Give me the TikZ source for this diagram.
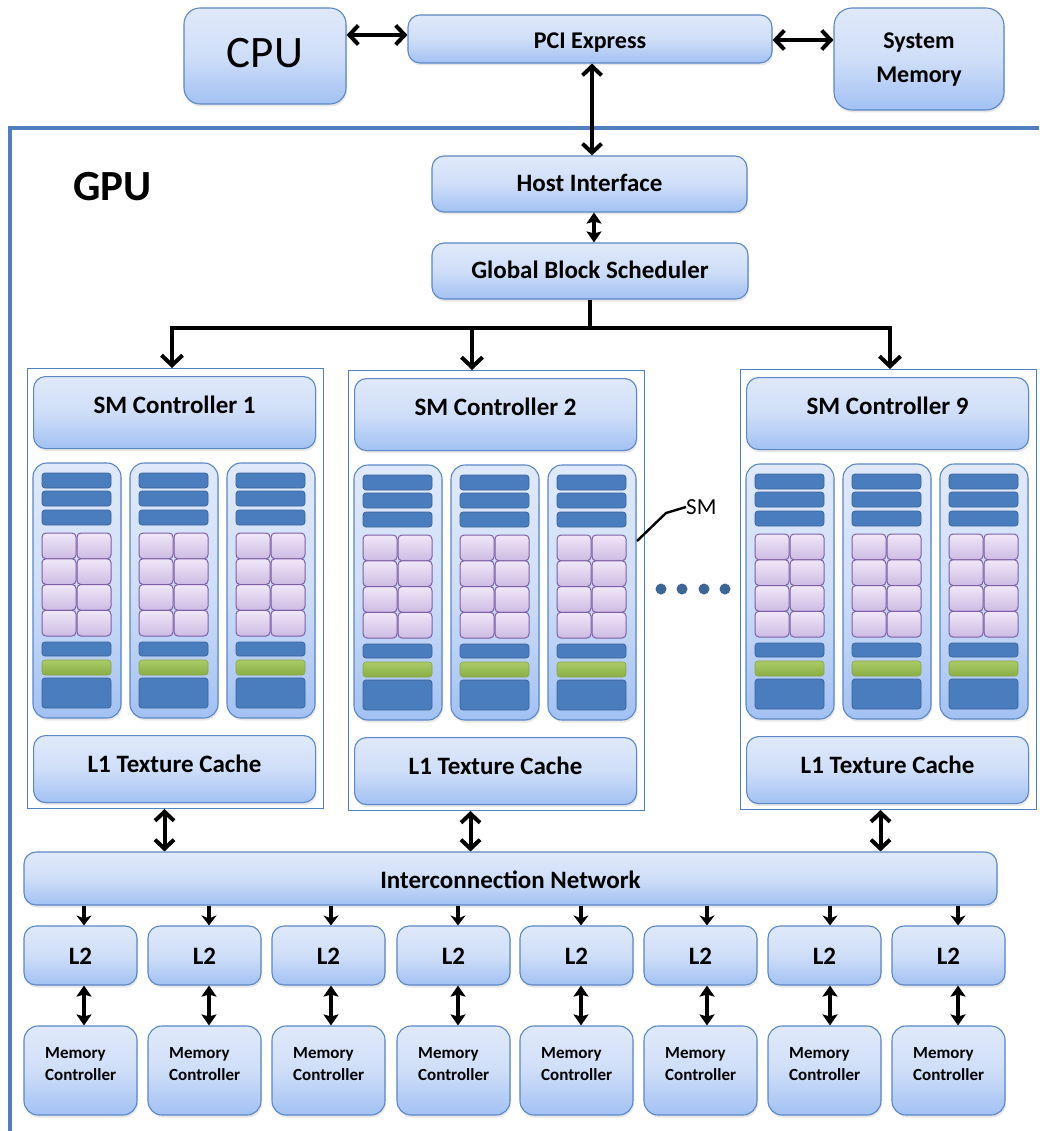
\documentclass[tikz,border=0pt]{standalone}
\usepackage{fontspec}
\setmainfont{Carlito}
\usetikzlibrary{arrows.meta,shadows}

\definecolor{boxline}{HTML}{5B87C5}
\definecolor{boxtop}{HTML}{E0E9FA}
\definecolor{boxmid}{HTML}{CFDEF8}
\definecolor{boxbot}{HTML}{A2C1F3}
\definecolor{frameblue}{HTML}{4F7FBE}
\definecolor{barfill}{HTML}{4A7DBD}
\definecolor{barline}{HTML}{3A6398}
\definecolor{celltop}{HTML}{F0E8F8}
\definecolor{cellbot}{HTML}{CDBBE3}
\definecolor{cellline}{HTML}{7D5EA6}
\definecolor{greentop}{HTML}{ABCB66}
\definecolor{greenbot}{HTML}{89AD44}
\definecolor{greenline}{HTML}{84A642}
\definecolor{dotblue}{HTML}{3E6596}

% box from (x1,y1) to (x2,y2) in pixel-like units
\newcommand{\boxat}[6]{%
  \node[#6, minimum width={(#4-#2)*1pt}, minimum height={(#5-#3)*1pt}]
    (#1) at ({(#2+#4)/2},{(#3+#5)/2}) {};}

% one streaming multiprocessor column, top-left corner at (#1,#2)
\newcommand{\smcolumn}[2]{%
  \begin{scope}[shift={(#1,#2)}]
    \draw[smcol] (0,0) rectangle (88,255);
    \foreach \t in {10,28,47} \draw[bar] (9,\t) rectangle (78,\t+15);
    \foreach \r in {0,...,3}
      \foreach \c in {0,1}
        \draw[cell] (9+\c*35,70+\r*25.75) rectangle (43+\c*35,95.75+\r*25.75);
    \draw[bar] (9,179) rectangle (78,193);
    \draw[greenbar] (9,197) rectangle (78,212);
    \draw[bar] (9,215) rectangle (78,245);
  \end{scope}}

% SM group: #1 id, #2 x, #3 y, #4 controller number
\newcommand{\smgroup}[4]{%
  \begin{scope}[shift={(#2,#3)}]
    \node[grp, minimum width=296pt, minimum height=440pt, anchor=north west] (grp#1) at (0,0) {};
    \node[blk, minimum width=282pt, minimum height=72pt, anchor=north west] (ctl#1) at (6,8) {};
    \node[lbl, anchor=base] (ctl#1-t) at ([yshift=-1pt]ctl#1.center) {SM Controller #4};
    \smcolumn{6}{95}\smcolumn{103}{95}\smcolumn{200}{95}
    \node[blk, minimum width=282pt, minimum height=67pt, anchor=north west] (lone#1) at (6,367) {};
    \node[lbl, anchor=base] (lone#1-t) at ([yshift=-3pt]lone#1.center) {L1 Texture Cache};
  \end{scope}}

\begin{document}
\begin{tikzpicture}[x=1pt,y=-1pt,
  blk/.style={draw=boxline, line width=1.1pt, rounded corners=12pt,
    top color=boxtop, bottom color=boxbot, middle color=boxmid, inner sep=0pt,
    drop shadow={opacity=0.18, shadow xshift=1pt, shadow yshift=-2.5pt}},
  smcol/.style={draw=boxline, line width=1.1pt, rounded corners=14pt,
    top color=boxtop, bottom color=boxbot, middle color=boxmid,
    drop shadow={opacity=0.18, shadow xshift=1pt, shadow yshift=-2.5pt}},
  grp/.style={draw=frameblue, line width=1pt, fill=white, inner sep=0pt},
  bar/.style={fill=barfill, draw=barline, line width=0.7pt, rounded corners=3pt},
  cell/.style={top color=celltop, bottom color=cellbot, draw=cellline, line width=1pt, rounded corners=4pt},
  greenbar/.style={top color=greentop, bottom color=greenbot, draw=greenline, line width=0.6pt, rounded corners=3pt},
  lbl/.style={inner sep=0pt, font=\fontsize{25}{30}\selectfont\bfseries},
  mclbl/.style={inner sep=0pt, font=\fontsize{17}{21}\selectfont\bfseries},
  wire/.style={line width=4pt},
  arr/.style={line width=4pt, -{Straight Barb[length=10pt,width=21pt]}},
  dbl/.style={line width=4pt, {Straight Barb[length=9pt,width=19pt]}-{Straight Barb[length=9pt,width=19pt]}},
  sarr/.style={line width=3.6pt, -{Stealth[length=10pt,width=15pt,inset=3pt]}},
  sdbl/.style={line width=3.6pt, {Stealth[length=11pt,width=15pt,inset=2pt]}-{Stealth[length=11pt,width=15pt,inset=2pt]}},
]
\useasboundingbox (0,0) rectangle (1039,1131);
\fill[white] (0,0) rectangle (1039,1131);

% host side
\boxat{cpu}{184}{8}{346}{104}{blk, rounded corners=16pt}
\node[inner sep=0pt, anchor=base, font=\fontsize{45}{54}\selectfont] (cpu-t) at ([yshift=-12pt]cpu.center) {CPU};
\boxat{pci}{408}{15}{772}{63}{blk}
\node[lbl, anchor=base, font=\fontsize{24}{28}\selectfont\bfseries] (pci-t) at ([yshift=-10pt]pci.center) {PCI Express};
\boxat{sysmem}{834}{8}{1004}{110}{blk, rounded corners=18pt}
\node[lbl, anchor=base, font=\fontsize{24}{28}\selectfont\bfseries] (sysmem-a) at ([yshift=10pt]sysmem.center) {System};
\node[lbl, anchor=base, font=\fontsize{24}{28}\selectfont\bfseries] (sysmem-b) at ([yshift=-24pt]sysmem.center) {Memory};

% GPU enclosure
\draw[frameblue, line width=3.2pt] (10,1131) -- (10,128) -- (1039,128);
\node[inner sep=0pt, anchor=base west, font=\fontsize{43}{50}\selectfont\bfseries] (gpu-t) at (73,201) {GPU};

\boxat{host}{432}{156}{747}{212}{blk}
\node[lbl, anchor=base] (host-t) at ([yshift=-8pt]host.center) {Host Interface};
\boxat{gbs}{432}{243}{748}{299}{blk}
\node[lbl, anchor=base] (gbs-t) at ([yshift=-8pt]gbs.center) {Global Block Scheduler};

% streaming multiprocessor groups
\smgroup{1}{27}{368}{1}
\smgroup{2}{348}{370}{2}
\smgroup{3}{740}{369}{9}

% SM callout and ellipsis
\node[inner sep=0pt, anchor=west, font=\fontsize{23}{28}\selectfont] (sm-t) at (686,507) {SM};
\coordinate (smedge) at (637,541);
\draw[line width=2.4pt] (smedge) -- (666,513) -- (sm-t.west);
\foreach \dx [count=\k] in {661,682,704,725}
  \fill[dotblue] (\dx,589) circle (5.5) coordinate (dot\k);

% interconnect, L2 slices and memory controllers
\boxat{ic}{24}{852}{997}{905}{blk}
\node[lbl, anchor=base] (ic-t) at ([yshift=-9.5pt]ic.center) {Interconnection Network};

\foreach \i/\lx/\ax in {1/24/84, 2/148/209, 3/272/331, 4/397/458, 5/520/581, 6/644/707, 7/768/830, 8/892/958} {
  \boxat{l2-\i}{\lx}{926}{\lx+113}{985}{blk}
  \node[lbl, anchor=base] (l2-\i-t) at ([yshift=-8.5pt]l2-\i.center) {L2};
  \boxat{mc-\i}{\lx}{1026}{\lx+113}{1115}{blk, rounded corners=14pt}
  \node[mclbl, anchor=base west] (mc-\i-a) at ([xshift=-35.5pt, yshift=12.5pt]mc-\i.center) {Memory};
  \node[mclbl, anchor=base west] (mc-\i-b) at ([xshift=-35.5pt, yshift=-9.5pt]mc-\i.center) {Controller};
  \coordinate (ax\i) at (\ax,0);
  \draw[sarr] (ax\i |- ic.south) -- (ax\i |- l2-\i.north);
  \draw[sdbl] (ax\i |- l2-\i.south) -- (ax\i |- mc-\i.north);
}

% connectors on the host side
\draw[dbl] ([yshift=21pt]cpu.east) -- ([yshift=21pt]cpu.east -| pci.west);
\draw[dbl] ([yshift=-1pt]pci.east) -- ([yshift=-1pt]pci.east -| sysmem.west);
\draw[dbl] ([xshift=2pt]pci.south) -- ([xshift=2pt]pci.south |- host.north);
\draw[sdbl] ([xshift=4.5pt]host.south) -- ([xshift=4.5pt]host.south |- gbs.north);

% scheduler fan-out
\coordinate (busL) at (172,328);
\coordinate (busM) at (472,328);
\coordinate (busR) at (890,328);
\draw[wire] (gbs.south) -- (gbs.south |- busM);
\draw[arr] (busM) -- (busL) -- (busL |- grp1.north);
\draw[arr] (busM) -- (busR) -- (busR |- grp3.north);
\draw[arr] (busM) -- (busM |- grp2.north);

% L1 caches to interconnect
\draw[dbl] ([xshift=-11pt]grp1.south) -- ([xshift=-11pt]grp1.south |- ic.north);
\draw[dbl] ([xshift=-26pt]grp2.south) -- ([xshift=-26pt]grp2.south |- ic.north);
\draw[dbl] ([xshift=-8pt]grp3.south) -- ([xshift=-8pt]grp3.south |- ic.north);
\end{tikzpicture}
\end{document}
